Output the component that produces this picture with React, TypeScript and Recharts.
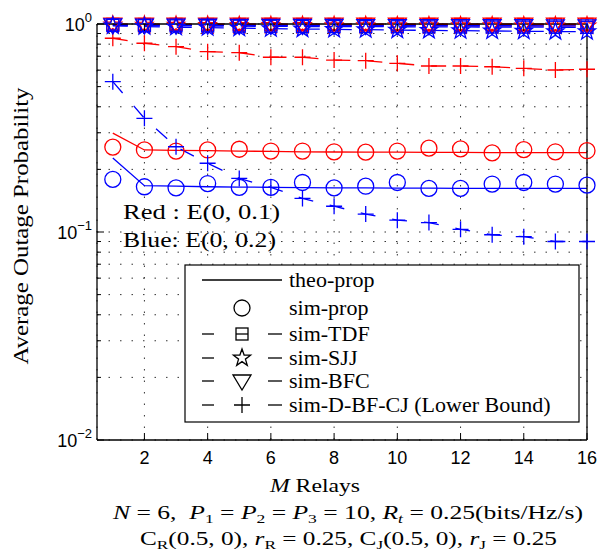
import React from 'react';
import { LineChart, Line, XAxis, YAxis, CartesianGrid } from 'recharts';

// M relays on the x axis
const relays = [1, 2, 3, 4, 5, 6, 7, 8, 9, 10, 11, 12, 13, 14, 15, 16];

// Red : E(0, 0.1)
const redTheo = [0.299, 0.248, 0.247, 0.246, 0.245, 0.244, 0.243, 0.2425, 0.242, 0.242, 0.2415, 0.2415, 0.241, 0.241, 0.241, 0.241];
const redProp = [0.256, 0.248, 0.245, 0.248, 0.25, 0.245, 0.245, 0.243, 0.242, 0.245, 0.253, 0.251, 0.24, 0.249, 0.243, 0.246];
const redTDF = [0.996, 0.995, 0.996, 0.995, 0.995, 0.996, 0.995, 0.995, 0.996, 0.995, 0.995, 0.996, 0.995, 0.995, 0.995, 0.996];
const redSJJ = [0.99, 0.988, 0.987, 0.986, 0.985, 0.985, 0.984, 0.983, 0.983, 0.982, 0.982, 0.981, 0.981, 0.98, 0.98, 0.98];
const redBFC = [0.999, 0.998, 0.998, 0.999, 0.998, 0.998, 0.998, 0.999, 0.998, 0.998, 0.998, 0.998, 0.999, 0.998, 0.998, 0.998];
const redLB = [0.854, 0.808, 0.778, 0.736, 0.728, 0.692, 0.692, 0.671, 0.666, 0.647, 0.628, 0.628, 0.623, 0.612, 0.601, 0.606];

// Blue: E(0, 0.2)
const blueTheo = [0.227, 0.167, 0.166, 0.165, 0.1645, 0.164, 0.1635, 0.163, 0.163, 0.1625, 0.1625, 0.162, 0.162, 0.162, 0.162, 0.162];
const blueProp = [0.179, 0.165, 0.163, 0.171, 0.164, 0.164, 0.173, 0.163, 0.166, 0.173, 0.162, 0.162, 0.17, 0.173, 0.17, 0.168];
const blueTDF = [0.985, 0.982, 0.98, 0.978, 0.976, 0.975, 0.973, 0.972, 0.971, 0.97, 0.969, 0.968, 0.967, 0.966, 0.965, 0.964];
const blueSJJ = [0.98, 0.972, 0.965, 0.96, 0.955, 0.95, 0.946, 0.942, 0.939, 0.935, 0.932, 0.929, 0.926, 0.923, 0.92, 0.918];
const blueBFC = [0.99, 0.988, 0.987, 0.986, 0.985, 0.985, 0.984, 0.984, 0.983, 0.983, 0.982, 0.982, 0.981, 0.981, 0.98, 0.98];
const blueLB = [0.528, 0.352, 0.257, 0.214, 0.181, 0.164, 0.145, 0.133, 0.122, 0.114, 0.111, 0.103, 0.097, 0.095, 0.09, 0.09];

const xTicks = [2, 4, 6, 8, 10, 12, 14, 16];
const yTicks = [
  0.01, 0.02, 0.03, 0.04, 0.05, 0.06, 0.07, 0.08, 0.09,
  0.1, 0.2, 0.3, 0.4, 0.5, 0.6, 0.7, 0.8, 0.9, 1,
];
const yExponents: Record<string, string> = { '1': '0', '0.1': '\u22121', '0.01': '\u22122' };

const legendItems = [
  { label: 'theo-prop', marker: null, line: 'solid' },
  { label: 'sim-prop', marker: 'circle', line: 'none' },
  { label: 'sim-TDF', marker: 'square', line: 'dash' },
  { label: 'sim-SJJ', marker: 'star', line: 'dash' },
  { label: 'sim-BFC', marker: 'tri', line: 'dash' },
  { label: 'sim-D-BF-CJ (Lower Bound)', marker: 'plus', line: 'dash' },
];
const legendRowY = [280, 308, 334, 358, 381, 405];

const RED = '#ff0000';
const BLUE = '#0000ff';
const SERIF = '"Liberation Serif", "Times New Roman", serif';
const SANS = '"Liberation Sans", Arial, sans-serif';
const DASH = '15 17';
const LW = 1.3;

const data = relays.map((m, i) => ({
  m,
  redTheo: redTheo[i],
  redProp: redProp[i],
  redTDF: redTDF[i],
  redSJJ: redSJJ[i],
  redBFC: redBFC[i],
  redLB: redLB[i],
  blueTheo: blueTheo[i],
  blueProp: blueProp[i],
  blueTDF: blueTDF[i],
  blueSJJ: blueSJJ[i],
  blueBFC: blueBFC[i],
  blueLB: blueLB[i],
}));

type Shape = 'circle' | 'square' | 'star' | 'tri' | 'plus';

function starPoints(cx: number, cy: number, R: number) {
  const r = R * 0.4;
  const pts: string[] = [];
  for (let k = 0; k < 10; k++) {
    const a = -Math.PI / 2 + (k * Math.PI) / 5;
    const rr = k % 2 === 0 ? R : r;
    pts.push(`${cx + rr * Math.cos(a)},${cy + rr * Math.sin(a)}`);
  }
  return pts.join(' ');
}

function Marker({ shape, cx, cy, color }: { shape: Shape; cx: number; cy: number; color: string }) {
  const common = { fill: 'none', stroke: color, strokeWidth: LW };
  switch (shape) {
    case 'circle':
      return <circle cx={cx} cy={cy} r={8} {...common} />;
    case 'square':
      return <rect x={cx - 6} y={cy - 6} width={12} height={12} {...common} />;
    case 'star':
      return <polygon points={starPoints(cx, cy, 9)} {...common} />;
    case 'tri':
      return <polygon points={`${cx - 9},${cy - 6} ${cx + 9},${cy - 6} ${cx},${cy + 9}`} {...common} />;
    case 'plus':
    default:
      return <path d={`M${cx - 8},${cy}H${cx + 8}M${cx},${cy - 8}V${cy + 8}`} {...common} />;
  }
}

const makeDot = (shape: Shape, color: string) => (props: any) => {
  const { cx, cy, index, dataKey } = props;
  if (cx == null || cy == null) return <g key={`${dataKey}-${index}`} />;
  return (
    <g key={`${dataKey}-${index}`}>
      <Marker shape={shape} cx={cx} cy={cy} color={color} />
    </g>
  );
};

// MATLAB style ticks: drawn inwards, labels outside
function BottomTick({ x, y, payload }: any) {
  return (
    <g>
      <line x1={x} y1={y} x2={x} y2={y - 7} stroke="#000" strokeWidth={1} />
      <text x={x} y={y + 24} textAnchor="middle" fontFamily={SANS} fontSize={18} fill="#000">
        {payload.value}
      </text>
    </g>
  );
}

function TopTick({ x, y }: any) {
  return <line x1={x} y1={y} x2={x} y2={y + 7} stroke="#000" strokeWidth={1} />;
}

function LeftTick({ x, y, payload }: any) {
  const exp = yExponents[String(payload.value)];
  const major = exp !== undefined;
  return (
    <g>
      <line x1={x} y1={y} x2={x + (major ? 7 : 4)} y2={y} stroke="#000" strokeWidth={1} />
      {major && (
        <text x={x - 5} y={y + 7} textAnchor="end" fontFamily={SANS} fontSize={18} fill="#000">
          10
          <tspan dy={-9} fontSize={13}>
            {exp}
          </tspan>
        </text>
      )}
    </g>
  );
}

function RightTick({ x, y, payload }: any) {
  const major = yExponents[String(payload.value)] !== undefined;
  return <line x1={x} y1={y} x2={x - (major ? 7 : 4)} y2={y} stroke="#000" strokeWidth={1} />;
}

function Overlay() {
  return (
    <svg
      width={611}
      height={554}
      style={{ position: 'absolute', left: 0, top: 0, pointerEvents: 'none' }}
    >
      {/* annotation */}
      <text x={123} y={219} fontFamily={SERIF} fontSize={20} textLength={157} lengthAdjust="spacingAndGlyphs">
        Red : E(0, 0.1)
      </text>
      <text x={123} y={247} fontFamily={SERIF} fontSize={20} textLength={153} lengthAdjust="spacingAndGlyphs">
        Blue: E(0, 0.2)
      </text>

      {/* legend */}
      <rect x={185} y={265} width={394} height={157} fill="#fff" stroke="#000" strokeWidth={1.2} />
      {legendItems.map((item, i) => {
        const cy = legendRowY[i];
        return (
          <g key={item.label}>
            {item.line === 'solid' && <line x1={202} x2={282} y1={cy} y2={cy} stroke="#000" strokeWidth={LW} />}
            {item.line === 'dash' && (
              <g stroke="#000" strokeWidth={LW}>
                <line x1={202} x2={214} y1={cy} y2={cy} />
                <line x1={268} x2={282} y1={cy} y2={cy} />
                {item.marker === 'square' && <line x1={236} x2={248} y1={cy} y2={cy} />}
              </g>
            )}
            {item.marker && <Marker shape={item.marker as Shape} cx={242} cy={cy} color="#000" />}
            <text x={289} y={cy + 7} fontFamily={SERIF} fontSize={22} fill="#000">
              {item.label}
            </text>
          </g>
        );
      })}

      {/* y label */}
      <text
        transform="translate(28,226) rotate(-90)"
        textAnchor="middle"
        fontFamily={SERIF}
        fontSize={21}
        textLength={277}
        lengthAdjust="spacingAndGlyphs"
      >
        Average Outage Probability
      </text>

      {/* x label and settings */}
      <text x={270} y={492} fontFamily={SERIF} fontSize={19} textLength={90} lengthAdjust="spacingAndGlyphs">
        <tspan fontStyle="italic">M</tspan> Relays
      </text>
      <text x={113} y={519} fontFamily={SERIF} fontSize={19} textLength={470} lengthAdjust="spacingAndGlyphs">
        <tspan fontStyle="italic">N</tspan> = 6,{'\u00a0\u00a0'}
        <tspan fontStyle="italic">P</tspan>
        <tspan dy={4} fontSize={13}>1</tspan>
        <tspan dy={-4}> = </tspan>
        <tspan fontStyle="italic">P</tspan>
        <tspan dy={4} fontSize={13}>2</tspan>
        <tspan dy={-4}> = </tspan>
        <tspan fontStyle="italic">P</tspan>
        <tspan dy={4} fontSize={13}>3</tspan>
        <tspan dy={-4}> = 10, </tspan>
        <tspan fontStyle="italic">R</tspan>
        <tspan dy={4} fontSize={13} fontStyle="italic">t</tspan>
        <tspan dy={-4}> = 0.25(bits/Hz/s)</tspan>
      </text>
      <text x={140} y={545} fontFamily={SERIF} fontSize={19} textLength={417} lengthAdjust="spacingAndGlyphs">
        C<tspan dy={4} fontSize={13}>R</tspan>
        <tspan dy={-4}>(0.5, 0), </tspan>
        <tspan fontStyle="italic">r</tspan>
        <tspan dy={4} fontSize={13}>R</tspan>
        <tspan dy={-4}> = 0.25, C</tspan>
        <tspan dy={4} fontSize={13}>J</tspan>
        <tspan dy={-4}>(0.5, 0), </tspan>
        <tspan fontStyle="italic">r</tspan>
        <tspan dy={4} fontSize={13}>J</tspan>
        <tspan dy={-4}> = 0.25</tspan>
      </text>
    </svg>
  );
}

export default function App() {
  const series: { key: string; color: string; shape: Shape | null; line: 'solid' | 'dash' | 'none' }[] = [
    { key: 'redTheo', color: RED, shape: null, line: 'solid' },
    { key: 'redProp', color: RED, shape: 'circle', line: 'none' },
    { key: 'redLB', color: RED, shape: 'plus', line: 'dash' },
    { key: 'redTDF', color: RED, shape: 'square', line: 'dash' },
    { key: 'redSJJ', color: RED, shape: 'star', line: 'dash' },
    { key: 'redBFC', color: RED, shape: 'tri', line: 'dash' },
    { key: 'blueTheo', color: BLUE, shape: null, line: 'solid' },
    { key: 'blueProp', color: BLUE, shape: 'circle', line: 'none' },
    { key: 'blueLB', color: BLUE, shape: 'plus', line: 'dash' },
    { key: 'blueTDF', color: BLUE, shape: 'square', line: 'dash' },
    { key: 'blueSJJ', color: BLUE, shape: 'star', line: 'dash' },
    { key: 'blueBFC', color: BLUE, shape: 'tri', line: 'dash' },
  ];

  const axisLine = { stroke: '#000', strokeWidth: 1.3 };

  return (
    <div style={{ position: 'absolute', left: 0, top: 0, width: 611, height: 554, background: '#fff' }}>
      <LineChart width={611} height={554} data={data} margin={{ top: 23, right: 23, bottom: 113, left: 96 }}>
        <CartesianGrid stroke="#333" strokeWidth={1} strokeDasharray="1.5 10" />
        <XAxis
          dataKey="m"
          type="number"
          domain={[0.5, 16]}
          ticks={xTicks}
          interval={0}
          height={1}
          tickSize={0}
          tickMargin={0}
          tickLine={false}
          tick={BottomTick}
          axisLine={axisLine}
        />
        <XAxis
          xAxisId="top"
          orientation="top"
          dataKey="m"
          type="number"
          domain={[0.5, 16]}
          ticks={xTicks}
          interval={0}
          height={1}
          tickSize={0}
          tickMargin={0}
          tickLine={false}
          tick={TopTick}
          axisLine={axisLine}
        />
        <YAxis
          type="number"
          scale="log"
          domain={[0.01, 1]}
          ticks={yTicks}
          interval={0}
          width={1}
          tickSize={0}
          tickMargin={0}
          tickLine={false}
          tick={LeftTick}
          axisLine={axisLine}
        />
        <YAxis
          yAxisId="right"
          orientation="right"
          type="number"
          scale="log"
          domain={[0.01, 1]}
          ticks={yTicks}
          interval={0}
          width={1}
          tickSize={0}
          tickMargin={0}
          tickLine={false}
          tick={RightTick}
          axisLine={axisLine}
        />
        {series.map((s) => (
          <Line
            key={s.key}
            dataKey={s.key}
            type="linear"
            stroke={s.line === 'none' ? 'none' : s.color}
            strokeWidth={LW}
            strokeDasharray={s.line === 'dash' ? DASH : undefined}
            dot={s.shape ? makeDot(s.shape, s.color) : false}
            activeDot={false}
            isAnimationActive={false}
          />
        ))}
      </LineChart>
      <Overlay />
    </div>
  );
}
